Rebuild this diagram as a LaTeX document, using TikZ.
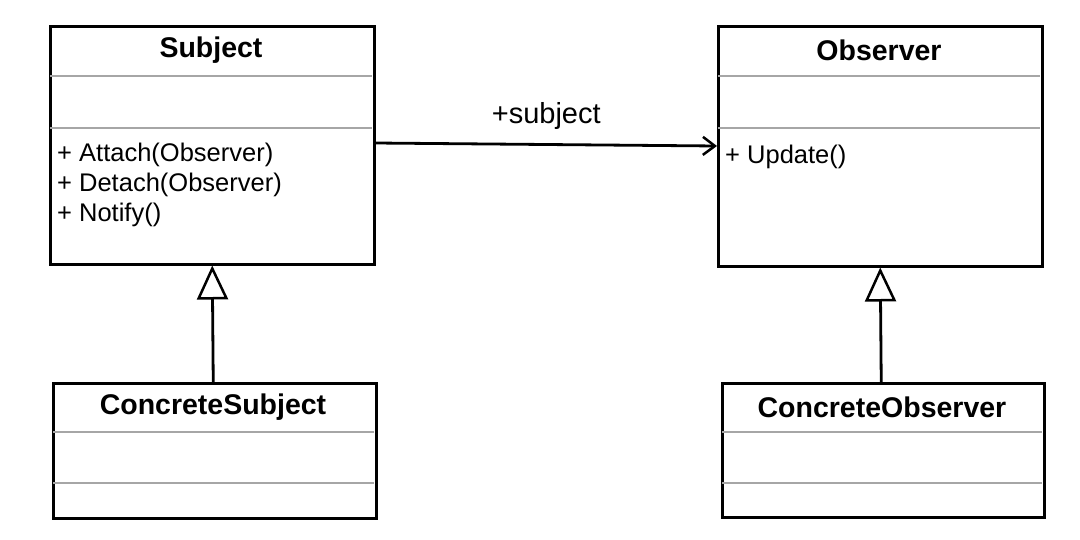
\documentclass[tikz,border=0pt]{standalone}
\usepackage{fontspec}
\setmainfont{Liberation Sans}
\usetikzlibrary{arrows.meta}
\begin{document}
\begin{tikzpicture}[x=1pt,y=-1pt,
  classbox/.style={draw=black, line width=2.5pt, rectangle, anchor=north west, inner sep=0pt},
  titletext/.style={font=\fontsize{28.5}{34}\selectfont\bfseries, inner sep=0pt},
  methtext/.style={font=\fontsize{25.5}{30}\selectfont, inner sep=0pt, anchor=base west},
  divider/.style={draw=black!35, line width=1.5pt},
  assoc/.style={line width=2.8pt, -{Straight Barb[length=12pt,width=18pt,line width=2.5pt]}},
  inherit/.style={line width=2.8pt, -{Triangle[open,length=34pt,width=31pt,line width=2.5pt]}}
]
\useasboundingbox (0,0) rectangle (1080,539);

% Subject
\node[classbox, minimum width=324pt, minimum height=238pt] (subj) at (49,25) {};
\node[titletext] (subjt) at (211,50) {Subject};
\draw[divider] (50,76) -- (372,76);
\draw[divider] (50,128) -- (372,128);
\node[methtext] (m1) at (57,161) {+ Attach(Observer)};
\node[methtext] (m2) at (57,191) {+ Detach(Observer)};
\node[methtext] (m3) at (57,221) {+ Notify()};

% Observer
\node[classbox, minimum width=324pt, minimum height=240pt] (obs) at (717,25) {};
\node[titletext] (obst) at (879,50) {Observer};
\draw[divider] (718,76) -- (1040,76);
\draw[divider] (718,128) -- (1040,128);
\node[methtext] (m4) at (725,163) {+ Update()};

% ConcreteSubject
\node[classbox, minimum width=323pt, minimum height=135pt] (csub) at (52,382) {};
\node[titletext] (csubt) at (213,407) {ConcreteSubject};
\draw[divider] (53,432) -- (374,432);
\draw[divider] (53,483) -- (374,483);

% ConcreteObserver
\node[classbox, minimum width=322pt, minimum height=134pt] (cobs) at (721,382) {};
\node[titletext] (cobst) at (882,407) {ConcreteObserver};
\draw[divider] (722,432) -- (1042,432);
\draw[divider] (722,483) -- (1042,483);

% association
\draw[assoc] ([yshift=-118pt]subj.north east) -- node[above=14pt, font=\fontsize{29}{34}\selectfont, inner sep=0pt] (lbl) {+subject} ([yshift=-121pt]obs.north west);

% inheritance
\draw[inherit] ([xshift=-1.5pt]csub.north) -- (subj.south);
\draw[inherit] ([xshift=-2pt]cobs.north) -- (obs.south);
\end{tikzpicture}
\end{document}
